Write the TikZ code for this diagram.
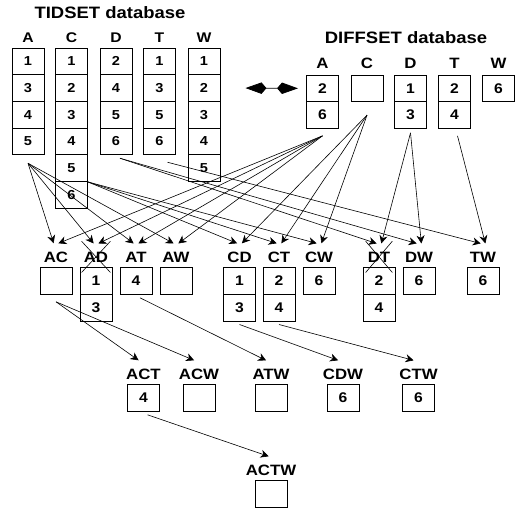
\documentclass[tikz,border=0pt]{standalone}
\usepackage{fontspec}
\setmainfont{Liberation Sans}[FakeStretch=1.12]
\usetikzlibrary{positioning}
\usetikzlibrary{arrows.meta}

\begin{document}
\begin{tikzpicture}[x=1pt, y=-1pt,
    cell/.style = {draw, line width=0.9pt, minimum width=32pt, minimum height=26.7pt,
      inner sep=0pt, font=\bfseries\fontsize{14}{14}\selectfont},
    tcell/.style = {cell, font=\bfseries\fontsize{13}{13}\selectfont},
    lbl/.style = {anchor=base, inner xsep=0pt, inner ysep=8pt,
      font=\bfseries\fontsize{15}{15}\selectfont},
    title/.style = {anchor=base, inner sep=0pt, font=\bfseries\fontsize{16.5}{17}\selectfont},
    arr/.style = {-{Stealth[length=8pt,width=8pt,inset=2.5pt]}, line width=0.6pt},
    cross/.style = {line width=0.6pt, shorten <=-3pt, shorten >=-3pt}]
  \useasboundingbox (0,0) rectangle (524,514);

  \node[title] (tidset) at (110,18) {TIDSET database};
  \node[title] (diffset) at (406,43) {DIFFSET database};

  % vertical tidsets
  \foreach \col/\x/\vals in {A/28/{1,3,4,5}, C/71.5/{1,2,3,4,5,6}, D/116/{2,4,5,6},
      T/159.5/{1,3,5,6}, W/204/{1,2,3,4,5}} {
    \node[lbl, font=\bfseries\fontsize{14}{14}\selectfont] (t\col) at (\x,42) {\col};
    \foreach \v [count=\i] in \vals
      \node[tcell] (t\col\i) at (\x,{61.35+(\i-1)*26.7}) {\v};
  }

  % diffsets
  \foreach \col/\x/\vals in {A/322.5/{2,6}, C/367/{\phantom{0}}, D/410.5/{1,3},
      T/454.5/{2,4}, W/498.5/{6}} {
    \node[lbl] (d\col) at (\x,68) {\col};
    \foreach \v [count=\i] in \vals
      \node[cell] (d\col\i) at (\x,{88.35+(\i-1)*26.7}) {\v};
  }

  \coordinate[right=25pt of tW2] (dbl);
  \coordinate[left=8pt of dA1] (dbr);
  \draw[{Stealth[length=16pt,width=11pt,inset=-5pt]}-{Stealth[length=16pt,width=11pt,inset=-5pt]},
    line width=0.8pt] (dbl) -- (dbr);

  % candidate itemsets
  \foreach \n/\x/\y/\vals in {AC/56/262/{\phantom{0}}, AD/96/262/{1,3}, AT/136/262/{4},
      AW/176/262/{\phantom{0}}, CD/239.5/262/{1,3}, CT/279/262/{2,4}, CW/319/262/{6},
      DT/379/262/{2,4}, DW/419/262/{6}, TW/483/262/{6},
      ACT/143.5/379/{4}, ACW/199/379/{\phantom{0}}, ATW/271/379/{\phantom{0}},
      CDW/343/379/{6}, CTW/418.5/379/{6}, ACTW/271/475/{\phantom{0}}} {
    \node[lbl] (\n) at (\x,\y) {\n};
    \foreach \v [count=\i] in \vals
      \node[cell] (\n\i) at (\x,{\y+19+(\i-1)*26.7}) {\v};
  }

  \draw[cross] (AD.north west) -- (AD.south east);
  \draw[cross] (AD.south west) -- (AD.north east);
  \draw[cross] (DT.north west) -- (DT.south east);
  \draw[cross] (DT.south west) -- (DT.north east);

  \coordinate[below=8pt of tA4] (tAout);
  \coordinate (tCout) at (tC5.south east);
  \coordinate (tDout) at ([xshift=4pt,yshift=-3pt]tD4.south);
  \coordinate (tTout) at ([xshift=8pt,yshift=-7pt]tT4.south);
  \coordinate[below=7pt of dA2] (dAout);
  \coordinate[below=13pt of dC1] (dCout);
  \coordinate[below=4pt of dD2] (dDout);
  \coordinate (dTout) at ([xshift=3pt,yshift=-7pt]dT2.south);
  \coordinate[below=7pt of AC1] (ACout);
  \coordinate (ATout) at ([xshift=4pt,yshift=-3pt]AT1.south);
  \coordinate[below=3pt of CD2] (CDout);
  \coordinate[below=3pt of CT2] (CTout);
  \coordinate (ACTout) at ([xshift=4pt,yshift=-3pt]ACT1.south);

  \foreach \t in {AC,AD,AT,AW} {
    \draw[arr] (tAout) -- (\t.100);
    \draw[arr] (dAout) -- (\t.80);
  }
  \foreach \t in {CD,CT,CW} {
    \draw[arr] (tCout) -- (\t.100);
    \draw[arr] (dCout) -- (\t.80);
  }
  \foreach \t in {DT,DW} {
    \draw[arr] (tDout) -- (\t.100);
    \draw[arr] (dDout) -- (\t.80);
  }
  \draw[arr] (tTout) -- (TW.100);
  \draw[arr] (dTout) -- (TW.80);

  \draw[arr] (ACout) -- (ACT.110);
  \draw[arr] (ACout) -- (ACW.110);
  \draw[arr] (ATout) -- (ATW.110);
  \draw[arr] (CDout) -- (CDW.110);
  \draw[arr] (CTout) -- (CTW.110);
  \draw[arr] (ACTout) -- (ACTW.100);
\end{tikzpicture}
\end{document}
